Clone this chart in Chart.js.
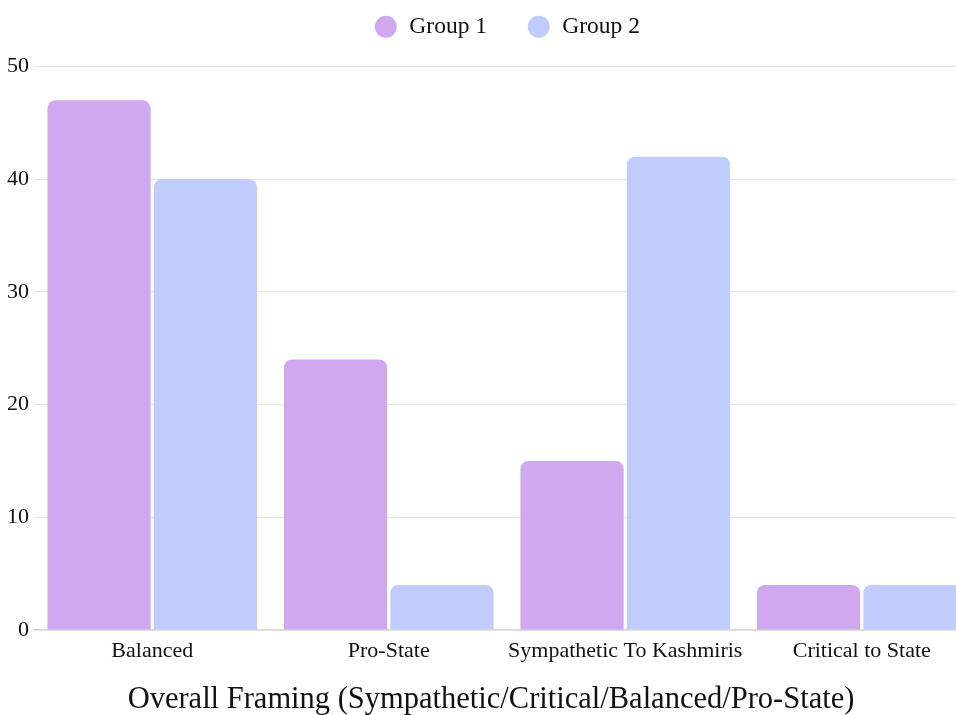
<!DOCTYPE html>
<html>
<head>
<meta charset="utf-8">
<script src="https://cdn.jsdelivr.net/npm/chart.js@4.4.1/dist/chart.umd.min.js"></script>
<style>
  html, body { margin: 0; padding: 0; background: #ffffff; overflow: hidden; }
  #wrap { position: relative; width: 990px; height: 715px; }
</style>
</head>
<body>
<div id="wrap"><canvas id="chart"></canvas></div>
<script>
const categories = ['Balanced', 'Pro-State', 'Sympathetic To Kashmiris', 'Critical to State'];
const group1 = [47, 24, 15, 4];
const group2 = [40, 4, 42, 4];
const yTicks = [0, 10, 20, 30, 40, 50];
const seriesNames = ['Group 1', 'Group 2'];
const axisTitle = 'Overall Framing (Sympathetic/Critical/Balanced/Pro-State)';

const serif = "'Liberation Serif', 'Times New Roman', serif";

new Chart(document.getElementById('chart'), {
  type: 'bar',
  data: {
    labels: categories,
    datasets: [
      {
        label: seriesNames[0],
        data: group1,
        backgroundColor: '#d0a8f0',
        borderRadius: 8,
        borderSkipped: 'start',
        categoryPercentage: 0.9,
        barPercentage: 0.97
      },
      {
        label: seriesNames[1],
        data: group2,
        backgroundColor: '#c0cdfc',
        borderRadius: 8,
        borderSkipped: 'start',
        categoryPercentage: 0.9,
        barPercentage: 0.97
      }
    ]
  },
  options: {
    responsive: true,
    maintainAspectRatio: false,
    animation: false,
    layout: { padding: { left: 2, right: 10, top: -25, bottom: -3 } },
    plugins: {
      tooltip: { enabled: false },
      legend: {
        position: 'top',
        fullSize: false,
        labels: {
          usePointStyle: true,
          pointStyle: 'circle',
          boxHeight: 15.5,
          padding: 40,
          color: '#111',
          font: { family: serif, size: 23.5 }
        }
      },
      title: {
        display: true,
        position: 'bottom',
        text: axisTitle,
        color: '#111',
        padding: { top: 9, bottom: 0 },
        font: { family: serif, size: 30.5, weight: 'normal' }
      }
    },
    scales: {
      x: {
        grid: { display: false, drawTicks: false },
        border: { display: true, color: '#d8d8d8', width: 1.5 },
        ticks: {
          color: '#111',
          padding: 8,
          maxRotation: 0,
          autoSkip: false,
          font: { family: serif, size: 22 }
        }
      },
      y: {
        min: 0,
        max: 51.6,
        afterBuildTicks: (scale) => {
          scale.ticks = yTicks.map(v => ({ value: v }));
        },
        grid: { color: '#e8e8e8', drawTicks: false },
        border: { display: false },
        ticks: {
          color: '#111',
          padding: 5,
          font: { family: serif, size: 22 }
        }
      }
    }
  }
});
</script>
</body>
</html>
